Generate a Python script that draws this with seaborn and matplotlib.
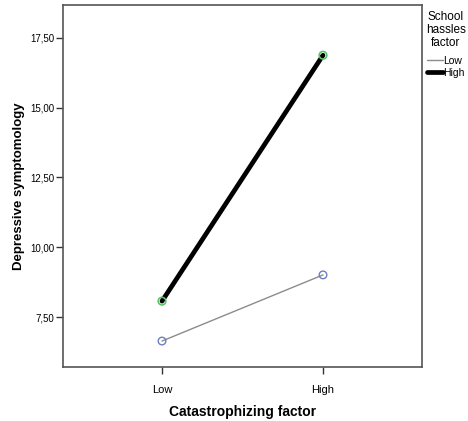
import matplotlib
matplotlib.use("Agg")
import matplotlib.pyplot as plt
import seaborn as sns
import pandas as pd
from matplotlib.lines import Line2D

sns.set_theme(style="white")
plt.rcParams["font.family"] = ["Liberation Sans", "DejaVu Sans"]
plt.rcParams["text.color"] = "black"
plt.rcParams["axes.labelcolor"] = "black"
plt.rcParams["xtick.color"] = "black"
plt.rcParams["ytick.color"] = "black"

catastrophizing = ["Low", "High"]
hassles_levels = ["Low", "High"]
depr_low_hassles = [6.64, 9.01]
depr_high_hassles = [8.07, 16.88]
y_ticks = [7.5, 10.0, 12.5, 15.0, 17.5]

df = pd.DataFrame({
    "Catastrophizing": catastrophizing * 2,
    "x": [0, 1, 0, 1],
    "Hassles": [hassles_levels[0]] * 2 + [hassles_levels[1]] * 2,
    "Depressive": depr_low_hassles + depr_high_hassles,
})

fig = plt.figure(figsize=(4.68, 4.21), dpi=100)
ax = fig.add_axes([63 / 468, 1 - 367 / 421, (422 - 63) / 468, (367 - 5) / 421])

sns.lineplot(data=df, x="x", y="Depressive", hue="Hassles", size="Hassles",
             palette={"Low": "#8c8c8c", "High": "#000000"},
             sizes={"Low": 1.0, "High": 3.4}, legend=False, ax=ax,
             estimator=None, sort=False)

# Cell-mean markers
low = df[df["Hassles"] == "Low"]
high = df[df["Hassles"] == "High"]
ax.scatter(low["x"], low["Depressive"], s=30, facecolors="none",
           edgecolors="#6a7fc6", linewidths=1.0, zorder=3)
ax.scatter(high["x"], high["Depressive"], s=30, facecolors="none",
           edgecolors="#5cc46a", linewidths=1.2, zorder=3)

ax.set_xlim(-0.615, 1.615)
ax.set_ylim(5.71, 18.68)
ax.set_xticks([0, 1])
ax.set_xticklabels(catastrophizing, fontsize=8)
ax.set_yticks(y_ticks)
ax.set_yticklabels([f"{v:.2f}".replace(".", ",") for v in y_ticks], fontsize=7)
ax.tick_params(axis="y", direction="out", length=5, width=1, color="#333333",
               pad=1, left=True)
ax.tick_params(axis="x", direction="out", length=5, width=1, color="#333333",
               pad=8, bottom=True)
for s in ax.spines.values():
    s.set_color("#555555")
    s.set_linewidth(1.2)

ax.set_xlabel("Catastrophizing factor", fontsize=10, fontweight="bold", labelpad=7)
ax.set_ylabel("Depressive symptomology", fontsize=9.5, fontweight="bold", labelpad=4)

# Legend: centred title block above the two line entries
fig.text(446 / 468, 1 - 11 / 421, "School\nhassles\nfactor", ha="center", va="top",
         fontsize=8.5, linespacing=1.12)
handles = [Line2D([], [], color="#8c8c8c", lw=1.0),
           Line2D([], [], color="#000000", lw=3.4)]
leg = fig.legend(handles, hassles_levels,
                 loc="upper left", bbox_to_anchor=(427 / 468, 1 - 56 / 421),
                 frameon=False, fontsize=7.5,
                 handlelength=1.55, handletextpad=0.0, borderpad=0,
                 borderaxespad=0, labelspacing=0.15)

fig.savefig("out.png", dpi=100)
